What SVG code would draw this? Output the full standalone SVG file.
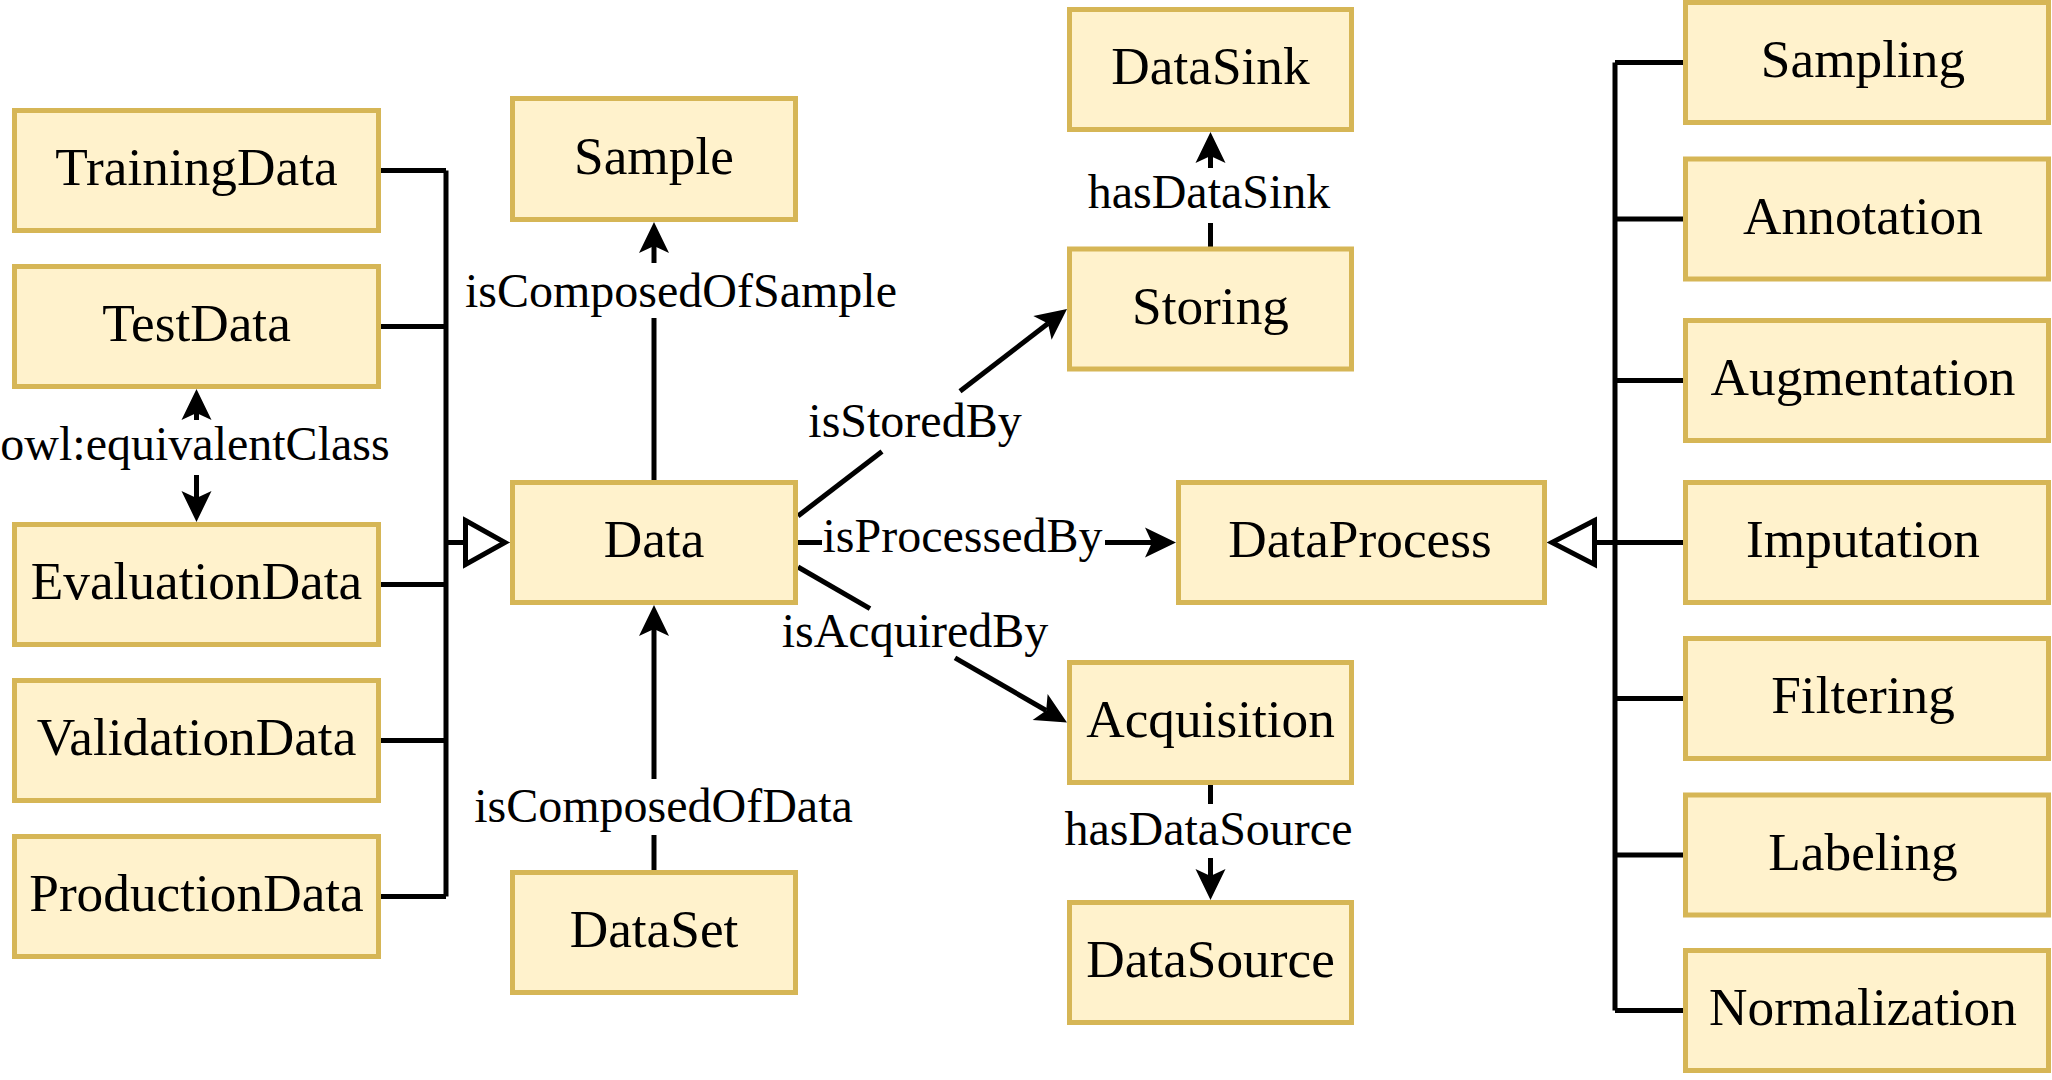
<svg xmlns="http://www.w3.org/2000/svg" width="2052" height="1080" viewBox="0 0 2052 1080">
<style>
.node rect{fill:#fff2cc;stroke:#d6b656;stroke-width:5}
.node text{font-family:"Liberation Serif","Times New Roman",serif;font-size:53.3px;fill:#000;text-anchor:middle}
.edge{fill:none;stroke:#000;stroke-width:5}
.tri{fill:#fff;stroke:#000;stroke-width:5;stroke-linejoin:miter}
.lbl{font-family:"Liberation Serif","Times New Roman",serif;font-size:48px;fill:#000;text-anchor:middle}
</style>
<defs>
<marker id="arr" viewBox="0 -16 32 32" refX="7" refY="0" markerWidth="32" markerHeight="32" markerUnits="userSpaceOnUse" orient="auto" overflow="visible">
<path d="M31,0 L0,-15 L7,0 L0,15 Z" fill="#000"/>
</marker>
</defs>
<rect width="2052" height="1080" fill="#fff"/>
<g id="connectors">
<!-- left subclass bus -->
<path class="edge" d="M381,170.5 H446 M381,326.5 H446 M381,584.5 H446 M381,740.5 H446 M381,896.5 H446 M446,170.5 V896.5 M446,542.5 H466"/>
<polygon class="tri" points="465.5,520.5 505,542.5 465.5,564.5"/>
<!-- right subclass bus -->
<path class="edge" d="M1683,62.5 H1615 M1683,219 H1615 M1683,380.5 H1615 M1683,542.5 H1615 M1683,698.5 H1615 M1683,855 H1615 M1683,1010.5 H1615 M1615,62.5 V1010.5 M1615,542.5 H1594"/>
<polygon class="tri" points="1594.5,520.5 1552,542.5 1594.5,564.5"/>
<!-- owl:equivalentClass -->
<path class="edge" d="M196.5,420 V413" marker-end="url(#arr)"/>
<path class="edge" d="M196.5,475 V498" marker-end="url(#arr)"/>
<text class="lbl" x="195" y="460">owl:equivalentClass</text>
<!-- isComposedOfSample -->
<path class="edge" d="M654,480 V318"/>
<path class="edge" d="M654,263 V246" marker-end="url(#arr)"/>
<text class="lbl" x="681" y="307">isComposedOfSample</text>
<!-- isComposedOfData -->
<path class="edge" d="M654,870 V835"/>
<path class="edge" d="M654,779 V629" marker-end="url(#arr)"/>
<text class="lbl" x="663.5" y="822">isComposedOfData</text>
<!-- isProcessedBy -->
<path class="edge" d="M798,542.5 H822"/>
<path class="edge" d="M1105,542.5 H1152" marker-end="url(#arr)"/>
<text class="lbl" x="962.5" y="552">isProcessedBy</text>
<!-- isStoredBy -->
<path class="edge" d="M798,516 L882,451.4"/>
<path class="edge" d="M960,391.3 L1048,323.6" marker-end="url(#arr)"/>
<text class="lbl" x="915" y="437">isStoredBy</text>
<!-- isAcquiredBy -->
<path class="edge" d="M798,567 L870,608.6"/>
<path class="edge" d="M955,657.8 L1046.2,710.5" marker-end="url(#arr)"/>
<text class="lbl" x="915" y="647">isAcquiredBy</text>
<!-- hasDataSink -->
<path class="edge" d="M1210.5,247 V223"/>
<path class="edge" d="M1210.5,168 V156" marker-end="url(#arr)"/>
<text class="lbl" x="1209" y="208">hasDataSink</text>
<!-- hasDataSource -->
<path class="edge" d="M1210.5,785 V804"/>
<path class="edge" d="M1210.5,858 V876" marker-end="url(#arr)"/>
<text class="lbl" x="1208.5" y="845">hasDataSource</text>
</g>
<g id="TrainingData" class="node"><rect x="14.5" y="110.5" width="364" height="120"/><text x="196.5" y="185">TrainingData</text></g>
<g id="TestData" class="node"><rect x="14.5" y="266.5" width="364" height="120"/><text x="196.5" y="341">TestData</text></g>
<g id="EvaluationData" class="node"><rect x="14.5" y="524.5" width="364" height="120"/><text x="196.5" y="599">EvaluationData</text></g>
<g id="ValidationData" class="node"><rect x="14.5" y="680.5" width="364" height="120"/><text x="196.5" y="755">ValidationData</text></g>
<g id="ProductionData" class="node"><rect x="14.5" y="836.5" width="364" height="120"/><text x="196.5" y="911">ProductionData</text></g>
<g id="Sample" class="node"><rect x="512.5" y="98.5" width="283" height="121"/><text x="654" y="173.5">Sample</text></g>
<g id="Data" class="node"><rect x="512.5" y="482.5" width="283" height="120"/><text x="654" y="557">Data</text></g>
<g id="DataSet" class="node"><rect x="512.5" y="872.5" width="283" height="120"/><text x="654" y="947">DataSet</text></g>
<g id="DataSink" class="node"><rect x="1069.5" y="9.5" width="282" height="120"/><text x="1210.5" y="84">DataSink</text></g>
<g id="Storing" class="node"><rect x="1069.5" y="249" width="282" height="120"/><text x="1210.5" y="323.5">Storing</text></g>
<g id="Acquisition" class="node"><rect x="1069.5" y="662.5" width="282" height="120"/><text x="1210.5" y="737">Acquisition</text></g>
<g id="DataSource" class="node"><rect x="1069.5" y="902.5" width="282" height="120"/><text x="1210.5" y="977">DataSource</text></g>
<g id="DataProcess" class="node"><rect x="1178.5" y="482.5" width="366" height="120"/><text x="1360" y="557">DataProcess</text></g>
<g id="Sampling" class="node"><rect x="1685.5" y="2.5" width="363" height="120"/><text x="1863" y="77">Sampling</text></g>
<g id="Annotation" class="node"><rect x="1685.5" y="159" width="363" height="120"/><text x="1863" y="233.5">Annotation</text></g>
<g id="Augmentation" class="node"><rect x="1685.5" y="320.5" width="363" height="120"/><text x="1863" y="395">Augmentation</text></g>
<g id="Imputation" class="node"><rect x="1685.5" y="482.5" width="363" height="120"/><text x="1863" y="557">Imputation</text></g>
<g id="Filtering" class="node"><rect x="1685.5" y="638.5" width="363" height="120"/><text x="1863" y="713">Filtering</text></g>
<g id="Labeling" class="node"><rect x="1685.5" y="795" width="363" height="120"/><text x="1863" y="869.5">Labeling</text></g>
<g id="Normalization" class="node"><rect x="1685.5" y="950.5" width="363" height="120"/><text x="1863" y="1025">Normalization</text></g>
</svg>
